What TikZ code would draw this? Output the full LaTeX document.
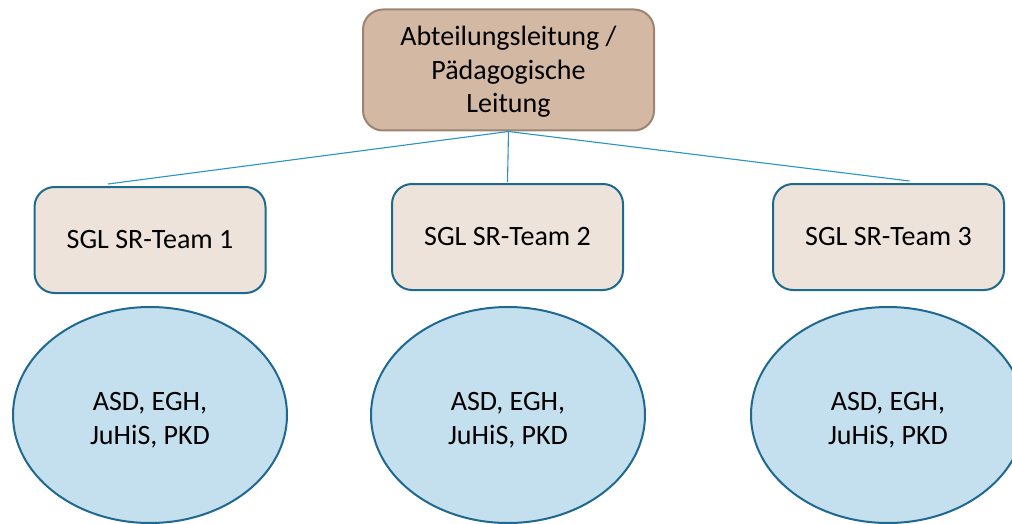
\documentclass[tikz,border=0pt]{standalone}
\usepackage{fontspec}
\setmainfont{Carlito}
\usetikzlibrary{shapes.geometric,calc}
\definecolor{topfill}{HTML}{D3B8A3}
\definecolor{topdraw}{HTML}{9C8473}
\definecolor{boxfill}{HTML}{EDE3DB}
\definecolor{boxdraw}{HTML}{1E6A8E}
\definecolor{ellfill}{HTML}{C4DFEE}
\definecolor{elldraw}{HTML}{1F6990}
\definecolor{conn}{HTML}{2A93C6}
\tikzset{
  txt/.style={font=\fontsize{28}{33.5}\selectfont, align=center},
  topbox/.style={draw=topdraw, fill=topfill, line width=2pt, rounded corners=20pt,
    minimum width=291pt, minimum height=121pt, inner sep=0pt},
  teambox/.style={draw=boxdraw, fill=boxfill, line width=2pt, rounded corners=20pt,
    minimum width=231pt, minimum height=106pt, inner sep=0pt, txt},
  grp/.style={ellipse, draw=elldraw, fill=ellfill, line width=2pt,
    minimum width=274pt, minimum height=216pt, inner sep=0pt},
  link/.style={draw=conn, line width=1.1pt}
}
\begin{document}
\begin{tikzpicture}[x=1pt,y=-1pt]
\useasboundingbox (0,0) rectangle (1012,524);
\node[topbox, label={[txt,yshift=-2pt]center:Abteilungsleitung /\\Pädagogische\\Leitung}] (top) at (508.5,70) {};
\node[teambox] (t1) at (150,240) {SGL SR-Team 1};
\node[teambox] (t2) at (507.5,237) {SGL SR-Team 2};
\node[teambox] (t3) at (888.5,237) {SGL SR-Team 3};
\node[grp, label={[txt,yshift=-5pt]center:ASD, EGH,\\JuHiS, PKD}] (g1) at (150,415) {};
\node[grp, label={[txt,yshift=-5pt]center:ASD, EGH,\\JuHiS, PKD}] (g2) at (508,415) {};
\node[grp, label={[txt,yshift=-5pt]center:ASD, EGH,\\JuHiS, PKD}] (g3) at (888,415) {};
\coordinate (c1) at ($(t1.north)+(-42,-2)$);
\coordinate (c2) at ($(t2.north)+(0,-1)$);
\coordinate (c3) at ($(t3.north)+(21,-2)$);
\draw[link] (top.south) -- (c1);
\draw[link] (top.south) -- (c2);
\draw[link] (top.south) -- (c3);
\end{tikzpicture}
\end{document}
